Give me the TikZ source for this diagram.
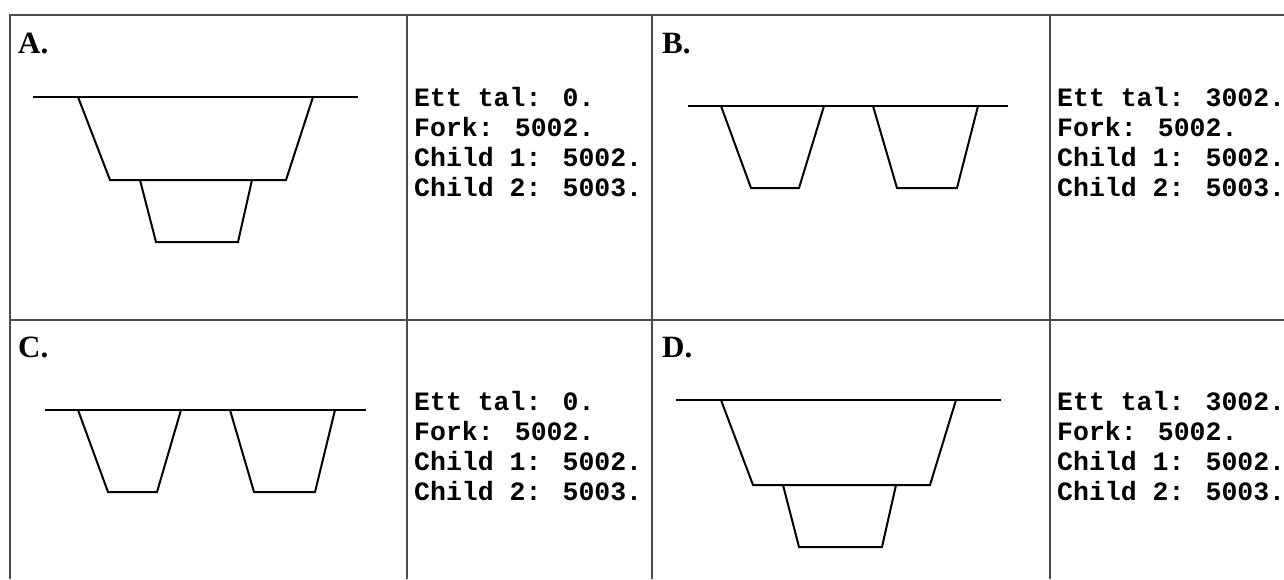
\documentclass[tikz,border=0pt]{standalone}
\usepackage{fontspec}
\setmainfont{Liberation Serif}
\newfontfamily\monofam{Liberation Mono}
\newcommand{\infolines}[4]{\vtop{\hbox{#1}\hbox{#2}\hbox{#3}\hbox{#4}}}
\begin{document}
\begin{tikzpicture}[x=1pt,y=-1pt,
  grid/.style={draw=black!70,line width=1.2pt},
  prof/.style={draw=black,line width=2pt,line join=miter},
  lbl/.style={anchor=base west,inner sep=0pt,font=\fontsize{31}{34}\selectfont\bfseries},
  info/.style={anchor=base west,inner sep=0pt,font=\monofam\fontsize{26.5}{30}\selectfont\bfseries}]
\useasboundingbox (0,0) rectangle (1284,579);
% table
\draw[grid] (10,579) -- (10,15) -- (1284,15);
\draw[grid] (10,320) -- (1284,320);
\draw[grid] (407,15) -- (407,579);
\draw[grid] (652,15) -- (652,579);
\draw[grid] (1050,15) -- (1050,579);
% labels
\node[lbl] (la) at (18,53) {A.};
\node[lbl] (lb) at (662,53) {B.};
\node[lbl] (lc) at (18,357) {C.};
\node[lbl] (ld) at (662,357) {D.};
% texts
\node[info] (ta) at (414,106) {\infolines{Ett tal: 0.}{Fork: 5002.}{Child 1: 5002.}{Child 2: 5003.}};
\node[info] (tb) at (1057,106) {\infolines{Ett tal: 3002.}{Fork: 5002.}{Child 1: 5002.}{Child 2: 5003.}};
\node[info] (tc) at (414,410) {\infolines{Ett tal: 0.}{Fork: 5002.}{Child 1: 5002.}{Child 2: 5003.}};
\node[info] (td) at (1057,410) {\infolines{Ett tal: 3002.}{Fork: 5002.}{Child 1: 5002.}{Child 2: 5003.}};
% panel A
\draw[prof] (33,97) -- (358,97);
\draw[prof] (78,97) -- (110,180) -- (286,180) -- (313,97);
\draw[prof] (140,180) -- (156,242) -- (238,242) -- (252,180);
% panel B
\draw[prof] (688,106) -- (1008,106);
\draw[prof] (721,106) -- (751,188) -- (799,188) -- (824,106);
\draw[prof] (873,106) -- (897,188) -- (957,188) -- (978,106);
% panel C
\draw[prof] (45,410) -- (366,410);
\draw[prof] (78,410) -- (108,492) -- (157,492) -- (181,410);
\draw[prof] (230,410) -- (254,492) -- (315,492) -- (335,410);
% panel D
\draw[prof] (676,400) -- (1001,400);
\draw[prof] (721,400) -- (753,485) -- (930,485) -- (956,400);
\draw[prof] (783,485) -- (799,547) -- (882,547) -- (896,485);
\end{tikzpicture}
\end{document}
